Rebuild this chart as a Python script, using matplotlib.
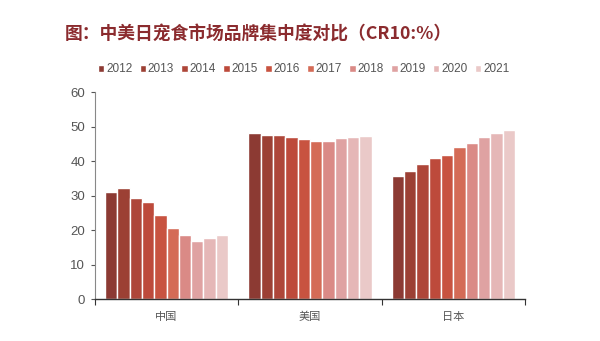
import numpy as np
import matplotlib.pyplot as plt

plt.rcParams['font.family'] = ['Noto Sans CJK SC', 'DejaVu Sans']

countries = ['中国', '美国', '日本']
years = ['2012', '2013', '2014', '2015', '2016', '2017', '2018', '2019', '2020', '2021']

cr10_china = [30.9, 32.1, 29.2, 28.2, 24.3, 20.7, 18.6, 16.7, 17.6, 18.7]
cr10_us = [48.0, 47.5, 47.5, 46.9, 46.3, 45.9, 45.9, 46.8, 47.1, 47.2]
cr10_japan = [35.7, 37.0, 39.1, 40.9, 41.8, 44.2, 45.1, 47.1, 48.0, 49.1]

year_colors = ['#8c3a33', '#9c4034', '#ae4639', '#bd4a3b', '#c85340',
               '#d46b56', '#da8a86', '#dfa2a2', '#e5b7b7', '#eac9c8']

values = np.array([cr10_china, cr10_us, cr10_japan])

fig = plt.figure(figsize=(6.0, 3.41), dpi=100)
ax = fig.add_axes([0.158, 0.123, 0.717, 0.607])

x = np.arange(len(countries))
group_w = 0.86
bar_w = group_w / len(years)
for i, year in enumerate(years):
    offs = -group_w / 2 + bar_w * (i + 0.5)
    ax.bar(x + offs, values[:, i], width=bar_w, color=year_colors[i],
           edgecolor='white', linewidth=1.0, label=year)

ax.set_xlim(-0.5, len(countries) - 0.5)
ax.set_ylim(0, 60)
ax.set_yticks(range(0, 61, 10))
ax.set_xticks(np.arange(-0.5, len(countries), 1.0))
ax.set_xticklabels([])
ax.set_xticks(x, minor=True)
ax.set_xticklabels(countries, minor=True, fontsize=8, color='#555555')
ax.tick_params(axis='x', which='major', length=4, color='#333333', direction='out')
ax.tick_params(axis='x', which='minor', length=0, pad=9)
ax.tick_params(axis='y', length=3, color='#555555', labelsize=9.5, labelcolor='#555555', pad=4)
for lbl in ax.get_yticklabels():
    lbl.set_family('Liberation Sans')

for side in ['top', 'right']:
    ax.spines[side].set_visible(False)
ax.spines['left'].set_color('#888888')
ax.spines['bottom'].set_color('#333333')
ax.spines['left'].set_linewidth(0.8)
ax.spines['bottom'].set_linewidth(1.0)

fig.text(0.108, 0.90, '图：中美日宠食市场品牌集中度对比（CR10:%）',
         fontsize=12.8, fontweight='bold', color='#8b2b2e', va='center')

leg = ax.legend(loc='lower center', bbox_to_anchor=(0.485, 1.03), ncol=10, frameon=False,
                handlelength=0.55, handleheight=0.55, handletextpad=0.15,
                columnspacing=0.62, labelcolor='#555555',
                prop={'family': 'Liberation Sans', 'size': 8.5})

fig.savefig('out.png', dpi=100)
